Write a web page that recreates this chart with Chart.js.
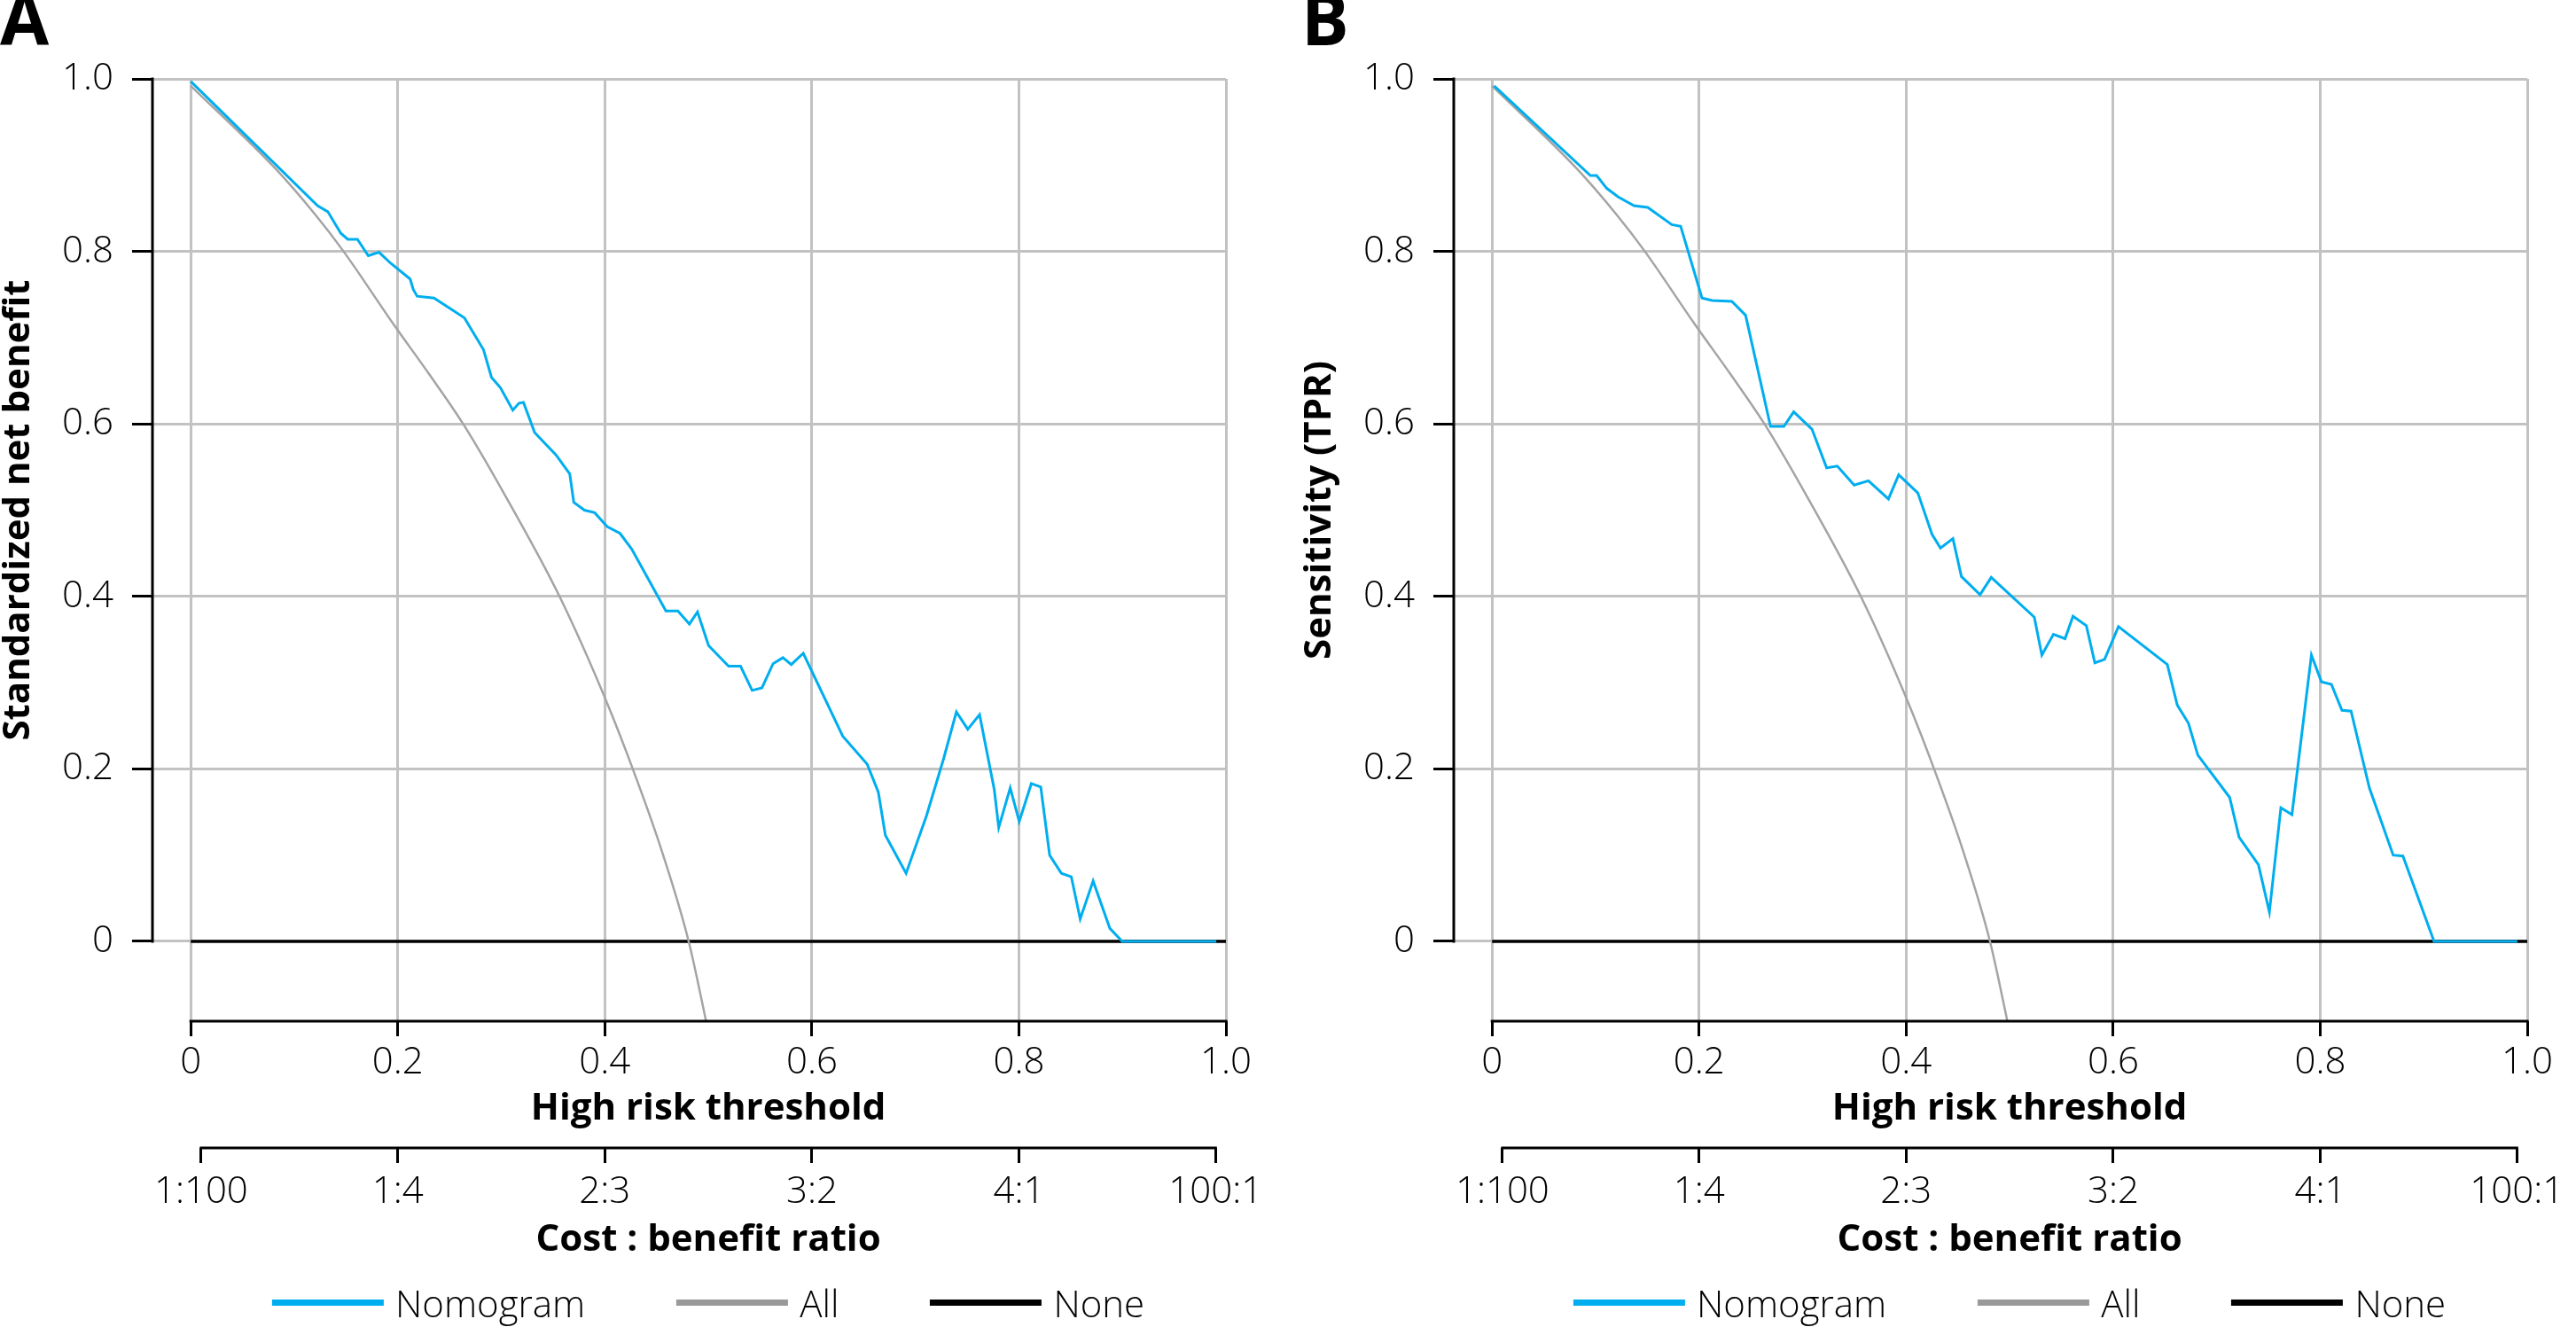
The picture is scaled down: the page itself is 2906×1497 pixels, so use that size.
<!DOCTYPE html>
<html>
<head>
<meta charset="utf-8">
<title>Decision curves</title>
<script src="https://cdn.jsdelivr.net/npm/chart.js@4.4.1/dist/chart.umd.min.js"></script>
<style>
    body { margin: 0; background: #fff; }
    #page { position: relative; width: 2906px; height: 1497px; overflow: hidden; font-family: 'Open Sans', sans-serif; }
    .panel { position: absolute; top: 0; width: 1438px; height: 1497px; }
    .legend { position: absolute; top: 1441px; display: flex; align-items: center; gap: 103px;
              transform: translateX(-50%); white-space: nowrap; font-size: 42px; font-weight: 300; color: #000; }
    .legend .item { display: flex; align-items: center; }
    .legend i { display: inline-block; width: 126px; height: 7px; margin-right: 13px; }
</style>
</head>
<body>
<div id="page">
    <div class="panel" id="panelA" style="left:0"><canvas id="chartA" width="1438" height="1497"></canvas></div>
    <div class="panel" id="panelB" style="left:1468px"><canvas id="chartB" width="1438" height="1497"></canvas></div>
</div>
<script>
    // axis ticks
    var thresholdTicks = [0, 0.2, 0.4, 0.6, 0.8, 1.0];
    var thresholdLabels = ['0', '0.2', '0.4', '0.6', '0.8', '1.0'];
    var ratioTicks = [0.01, 0.2, 0.4, 0.6, 0.8, 0.99];
    var ratioLabels = ['1:100', '1:4', '2:3', '3:2', '4:1', '100:1'];
    var yTicks = [0, 0.2, 0.4, 0.6, 0.8, 1.0];
    var yLabels = ['0', '0.2', '0.4', '0.6', '0.8', '1.0'];

    var seriesNames = ['Nomogram', 'All', 'None'];
    var seriesColors = ['#00aeef', '#a4a4a4', '#000000'];

    // panel A - standardized net benefit of the nomogram
    var nomoAX = [0, 0.1225, 0.1324, 0.145, 0.1517, 0.161, 0.1715, 0.1818, 0.1934, 0.2119, 0.2149, 0.2187, 0.235,
        0.2643, 0.2828, 0.2905, 0.2991, 0.3111, 0.3171, 0.3214, 0.3322, 0.3528, 0.3661, 0.37, 0.3803, 0.3902, 0.4022,
        0.4147, 0.4259, 0.459, 0.4706, 0.4817, 0.4895, 0.5002, 0.5195, 0.5311, 0.5423, 0.5518, 0.5625, 0.572, 0.5801,
        0.5917, 0.6298, 0.6534, 0.6642, 0.671, 0.691, 0.7108, 0.7273, 0.7396, 0.7506, 0.762, 0.7762, 0.7805, 0.7916,
        0.8003, 0.812, 0.8211, 0.8297, 0.841, 0.8506, 0.8592, 0.8717, 0.8879, 0.8998, 0.9907];
    var nomoAY = [0.997, 0.853, 0.846, 0.821, 0.814, 0.814, 0.795, 0.799, 0.786, 0.768, 0.756, 0.748, 0.746,
        0.723, 0.686, 0.654, 0.642, 0.616, 0.624, 0.625, 0.590, 0.564, 0.542, 0.509, 0.500, 0.497, 0.481,
        0.473, 0.455, 0.383, 0.383, 0.368, 0.382, 0.343, 0.319, 0.319, 0.291, 0.294, 0.322, 0.329, 0.321,
        0.334, 0.238, 0.2055, 0.173, 0.123, 0.079, 0.146, 0.212, 0.266, 0.246, 0.263, 0.176, 0.132, 0.178,
        0.139, 0.183, 0.179, 0.100, 0.079, 0.075, 0.026, 0.070, 0.015, 0, 0];

    // panel B - sensitivity of the nomogram
    var nomoBX = [0.002, 0.095, 0.101, 0.1109, 0.122, 0.1371, 0.1504, 0.1736, 0.1822, 0.2028, 0.2127, 0.2316, 0.2449,
        0.269, 0.2819, 0.2914, 0.309, 0.3232, 0.3335, 0.3498, 0.3636, 0.3829, 0.3928, 0.4113, 0.425, 0.4332, 0.4452,
        0.4534, 0.4714, 0.4822, 0.5238, 0.5311, 0.5423, 0.5535, 0.5612, 0.5741, 0.5823, 0.5917, 0.6051, 0.6523, 0.6619,
        0.6727, 0.6818, 0.7125, 0.7216, 0.7403, 0.7509, 0.762, 0.7727, 0.7915, 0.8012, 0.8108, 0.821, 0.8298, 0.8475,
        0.8705, 0.8799, 0.91, 0.9905];
    var nomoBY = [0.992, 0.888, 0.888, 0.873, 0.863, 0.853, 0.851, 0.831, 0.829, 0.746, 0.743, 0.742, 0.726,
        0.597, 0.597, 0.614, 0.594, 0.549, 0.551, 0.529, 0.534, 0.513, 0.541, 0.520, 0.472, 0.456, 0.467,
        0.423, 0.402, 0.422, 0.376, 0.332, 0.356, 0.351, 0.377, 0.366, 0.323, 0.327, 0.365, 0.321, 0.274,
        0.253, 0.216, 0.167, 0.121, 0.089, 0.034, 0.155, 0.147, 0.332, 0.301, 0.298, 0.268, 0.267, 0.178,
        0.100, 0.099, 0, 0];

    // treat all / treat none (same in both panels)
    var allX = [0, 0.081, 0.12, 0.147, 0.1957, 0.2301, 0.2631, 0.3046, 0.3562, 0.4001, 0.4307, 0.455, 0.481, 0.5];
    var allY = [0.992, 0.897, 0.843, 0.801, 0.7158, 0.658, 0.600, 0.515, 0.400, 0.2823, 0.188, 0.105, 0, -0.105];
    var noneX = [0, 1];
    var noneY = [0, 0];

    function points(xs, ys) {
        return xs.map(function (x, i) { return { x: x, y: ys[i] }; });
    }

    // R style axes: lines only over the tick range, titles centred on 0..1
    var rAxes = {
        id: 'rAxes',
        afterDraw: function (chart, args, opts) {
            var ctx = chart.ctx, area = chart.chartArea;
            var x = chart.scales.x, y = chart.scales.y, r = chart.scales.ratio;
            ctx.save();
            ctx.strokeStyle = '#000';
            ctx.lineWidth = 3;
            ctx.lineCap = 'square';
            ctx.beginPath();
            ctx.moveTo(area.left, y.getPixelForValue(yTicks[0]));
            ctx.lineTo(area.left, y.getPixelForValue(yTicks[yTicks.length - 1]));
            ctx.moveTo(x.getPixelForValue(thresholdTicks[0]), area.bottom);
            ctx.lineTo(x.getPixelForValue(thresholdTicks[thresholdTicks.length - 1]), area.bottom);
            ctx.moveTo(r.getPixelForValue(ratioTicks[0]), r.top);
            ctx.lineTo(r.getPixelForValue(ratioTicks[ratioTicks.length - 1]), r.top);
            ctx.stroke();

            var cx = (x.getPixelForValue(0) + x.getPixelForValue(1)) / 2;
            var cy = (y.getPixelForValue(0) + y.getPixelForValue(1)) / 2;
            ctx.fillStyle = '#000';
            ctx.font = 'bold 42px "Open Sans"';
            ctx.textAlign = 'center';
            ctx.textBaseline = 'middle';
            ctx.fillText(opts.xTitle, cx, x.bottom - 44);
            ctx.fillText(opts.ratioTitle, cx, r.bottom - 31);
            ctx.translate(21, cy);
            ctx.rotate(-Math.PI / 2);
            ctx.fillText(opts.yTitle, 0, 0);
            ctx.restore();
        }
    };

    Chart.defaults.font.family = "'Open Sans', sans-serif";
    Chart.defaults.color = '#000';

    var gridGray = '#c2c2c2';

    function makePanel(canvasId, panelId, letter, yTitle, nomoX, nomoY) {
        var sets = [points(nomoX, nomoY), points(allX, allY), points(noneX, noneY)];
        var widths = [3, 2.5, 3.5];
        var datasets = sets.map(function (d, i) {
            return {
                label: seriesNames[i], data: d, borderColor: seriesColors[i], backgroundColor: seriesColors[i],
                borderWidth: widths[i], pointRadius: 0, fill: false, tension: 0,
                // the treat-all curve is smooth in the original
                cubicInterpolationMode: i === 1 ? 'monotone' : 'default'
            };
        });

        var chart = new Chart(document.getElementById(canvasId), {
            type: 'line',
            data: { datasets: datasets },
            plugins: [rAxes],
            options: {
                responsive: false,
                animation: false,
                devicePixelRatio: 1,
                layout: { padding: { left: 0, right: 55, top: 0, bottom: 67 } },
                plugins: {
                    legend: { display: false },
                    tooltip: { enabled: false },
                    title: {
                        display: true, text: letter, align: 'start', color: '#000',
                        font: { size: 80, weight: 'bold', lineHeight: 0.7 },
                        padding: { top: 0, bottom: 33 }
                    },
                    rAxes: { xTitle: 'High risk threshold', ratioTitle: 'Cost : benefit ratio', yTitle: yTitle }
                },
                scales: {
                    x: {
                        type: 'linear', position: 'bottom', weight: 0, min: -0.037, max: 1,
                        afterBuildTicks: function (s) { s.ticks = thresholdTicks.map(function (v) { return { value: v }; }); },
                        afterFit: function (s) { s.height = 143; },
                        ticks: {
                            padding: 5, maxRotation: 0, autoSkip: false, color: '#000',
                            font: { size: 42, weight: 300 },
                            callback: function (v, i) { return thresholdLabels[i]; }
                        },
                        grid: { color: gridGray, lineWidth: 3, tickColor: '#000', tickWidth: 3, tickLength: 17 },
                        border: { display: false }
                    },
                    ratio: {
                        type: 'linear', position: 'bottom', weight: 1, min: -0.037, max: 1,
                        afterBuildTicks: function (s) { s.ticks = ratioTicks.map(function (v) { return { value: v }; }); },
                        afterFit: function (s) { s.height = 135; },
                        ticks: {
                            padding: 8, maxRotation: 0, autoSkip: false, color: '#000',
                            font: { size: 42, weight: 300 },
                            callback: function (v, i) { return ratioLabels[i]; }
                        },
                        grid: { drawOnChartArea: false, tickColor: '#000', tickWidth: 3, tickLength: 17, lineWidth: 3 },
                        border: { display: false }
                    },
                    y: {
                        type: 'linear', position: 'left', min: -0.0925, max: 1,
                        afterBuildTicks: function (s) { s.ticks = yTicks.map(function (v) { return { value: v }; }); },
                        afterFit: function (s) { s.width = 172; },
                        ticks: {
                            padding: 21, color: '#000', font: { size: 42, weight: 300 },
                            callback: function (v, i) { return yLabels[i]; }
                        },
                        grid: { color: gridGray, lineWidth: 3, tickColor: '#000', tickWidth: 3, tickLength: 23 },
                        border: { display: false }
                    }
                }
            }
        });

        // legend under the plot, centred on the 0..1 range
        var x = chart.scales.x;
        var legend = document.createElement('div');
        legend.className = 'legend';
        legend.style.left = ((x.getPixelForValue(0) + x.getPixelForValue(1)) / 2) + 'px';
        seriesNames.forEach(function (name, i) {
            var item = document.createElement('span');
            item.className = 'item';
            var bar = document.createElement('i');
            bar.style.background = i === 1 ? '#999999' : seriesColors[i];
            item.appendChild(bar);
            item.appendChild(document.createTextNode(name));
            legend.appendChild(item);
        });
        document.getElementById(panelId).appendChild(legend);
        return chart;
    }

    makePanel('chartA', 'panelA', 'A', 'Standardized net benefit', nomoAX, nomoAY);
    makePanel('chartB', 'panelB', 'B', 'Sensitivity (TPR)', nomoBX, nomoBY);
</script>
</body>
</html>
